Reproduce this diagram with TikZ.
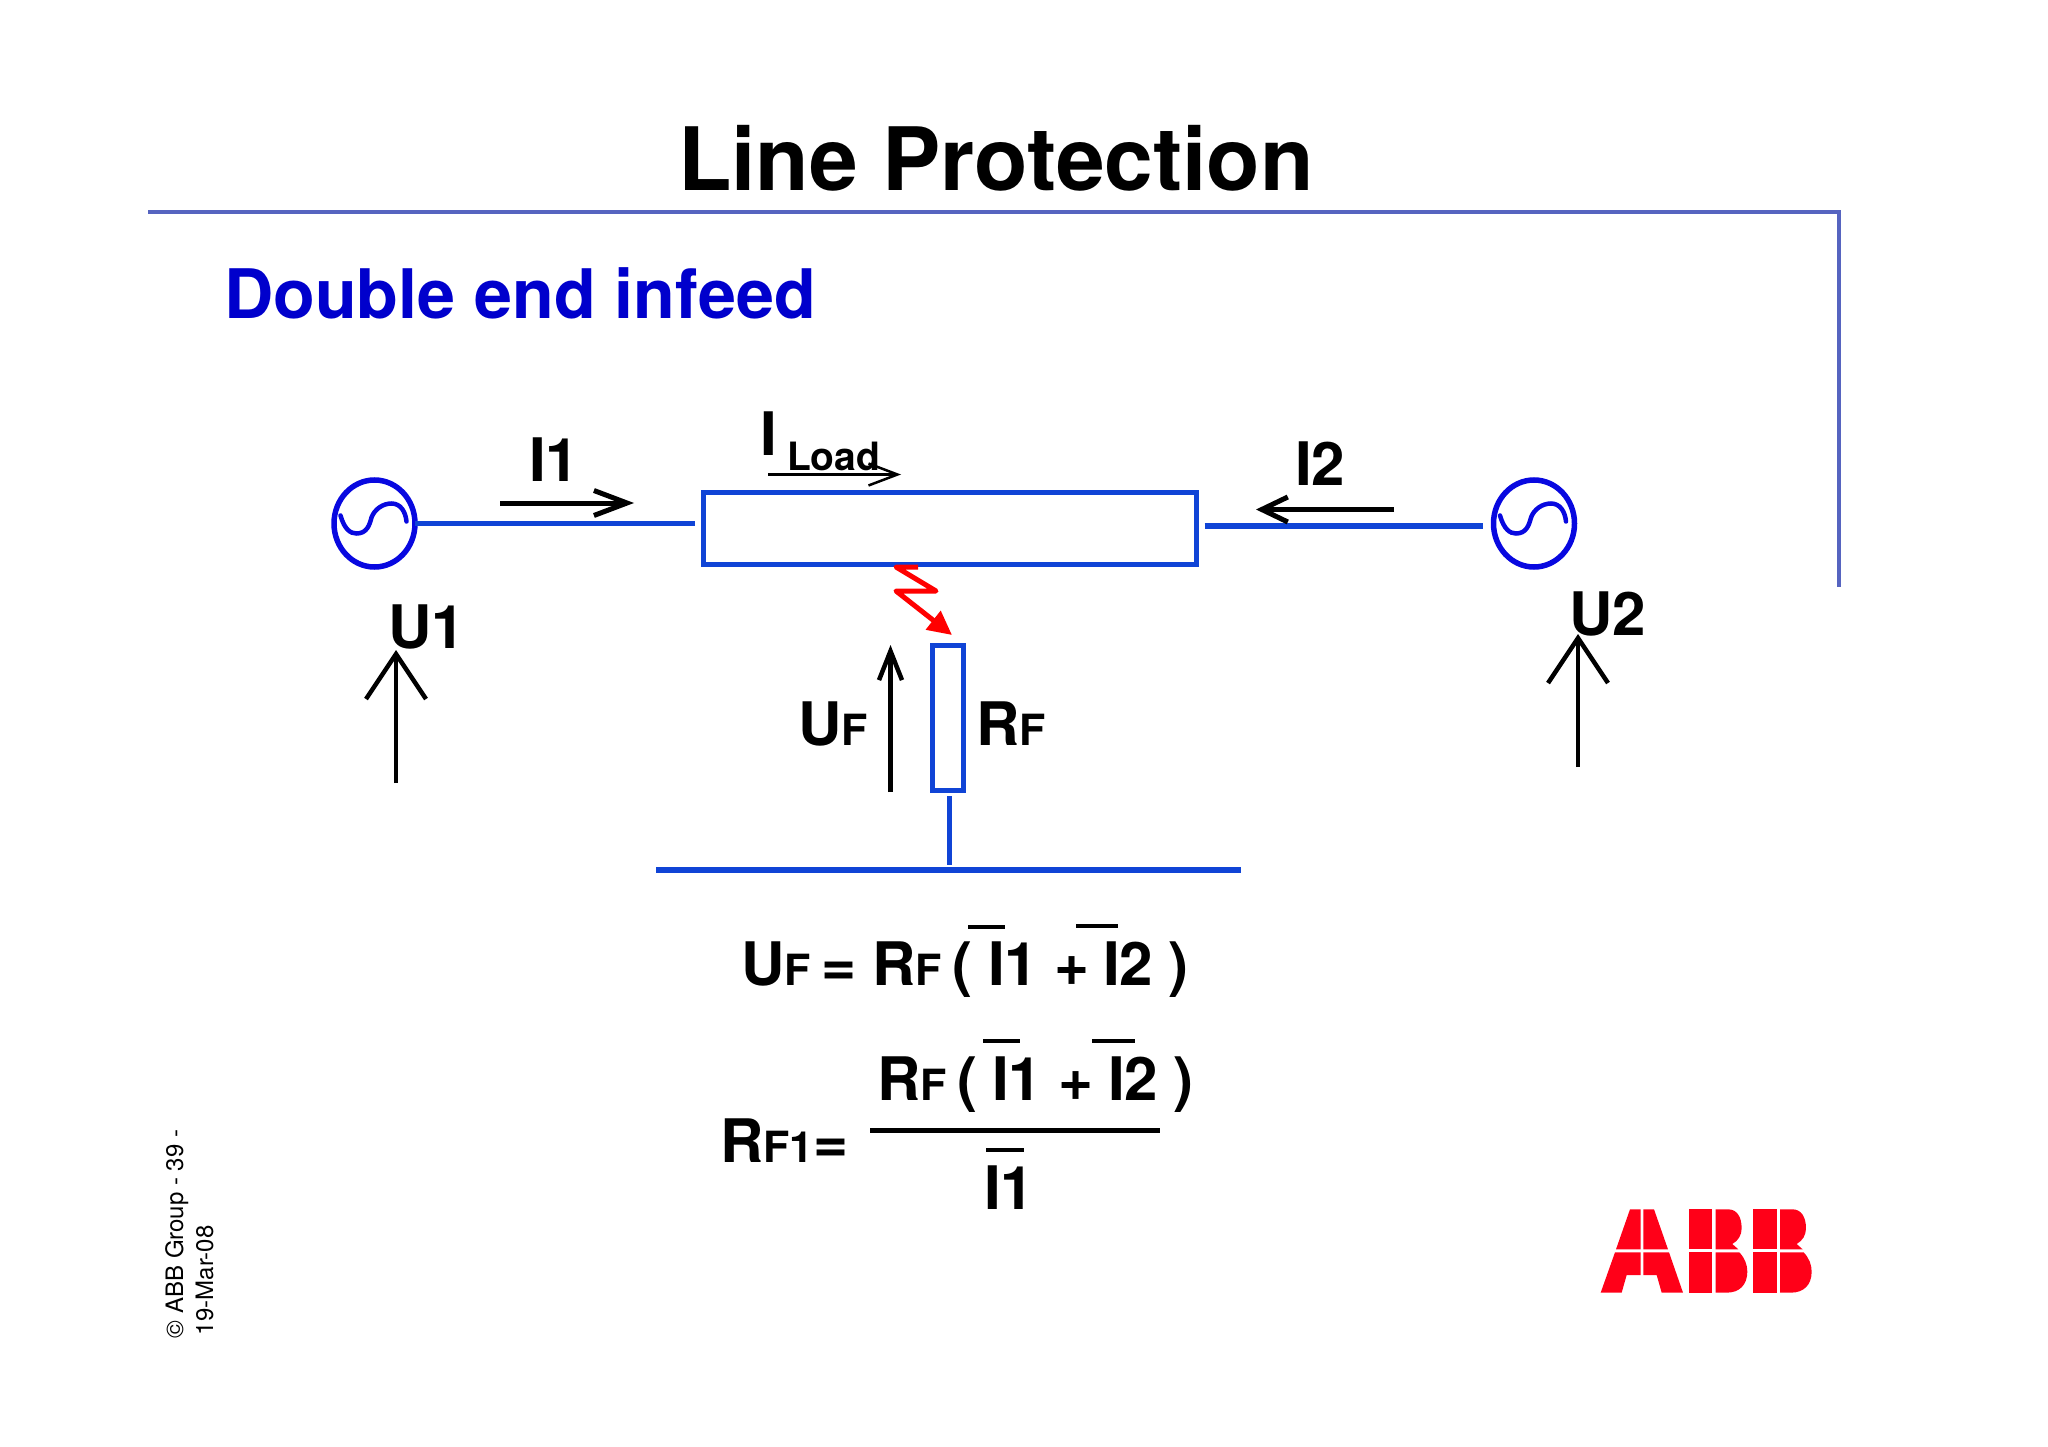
\documentclass[tikz,border=0pt]{standalone}
\usepackage{fontspec}
\setmainfont{TeX Gyre Heros}
\usetikzlibrary{arrows.meta,shapes.geometric}
\definecolor{wireblue}{HTML}{1044D6}
\definecolor{genblue}{HTML}{0808E0}
\definecolor{ruleblue}{HTML}{5664C0}
\definecolor{subblue}{HTML}{0000CC}
\definecolor{abbred}{HTML}{FF0018}
\newcommand{\bigtxt}{\fontsize{60}{70}\selectfont\bfseries}
\newcommand{\subtxt}{\fontsize{43}{50}\selectfont\bfseries}
\tikzset{
  every node/.style={inner sep=0pt, outer sep=0pt},
  lab/.style={anchor=base west, font=\bigtxt},
  wire/.style={draw=wireblue, line width=5.5pt},
  gen/.style={ellipse, draw=genblue, line width=5.5pt, minimum width=81pt, minimum height=87pt},
  sinewave/.style={draw=genblue, line width=4.5pt, line cap=round},
  amp/.style={line width=5pt, -{Straight Barb[length=33pt,width=25pt]}},
  volt/.style={line width=4.5pt, -{Straight Barb[length=45pt,width=60pt]}},
  bar/.style={line width=4.5pt},
  logo/.style={fill=abbred, draw=none}
}
\begin{document}
\begin{tikzpicture}[x=1pt, y=-1pt]
    \useasboundingbox (0, 0) rectangle (2048, 1447);
    %%header
    \node[anchor=base west, font=\fontsize{87.5}{90}\selectfont\bfseries] (title) at (678, 191) {Line Protection};
    \draw[draw=ruleblue, line width=3.5pt](148, 212) to (1839, 212) to (1839, 587);
    \node[anchor=base west, font=\fontsize{68.3}{70}\selectfont\bfseries, text=subblue] (subtitle) at (224, 319) {Double end infeed};

    %%line and sources
    \node[gen] (genL) at (374.5, 523.5) {};
    \node[gen] (genR) at (1534, 523.5) {};
    \node[wire, minimum width=493pt, minimum height=72pt] (line) at (950, 528.5) {};
    \coordinate (wireLend) at (695, 523.5);
    \coordinate (wireRend) at (1204.5, 526);
    \coordinate (wireRgen) at (1483, 526);
    \draw[wire](genL.east) to (wireLend);
    \draw[wire](wireRend) to (wireRgen);
    \foreach \src in {genL, genR} {
      \begin{scope}[shift={(\src)}]
        \draw[sinewave](-34, -8) .. controls (-30, 6) and (-24, 10) .. (-18, 10)
          .. controls (-8, 10) and (-5, 2) .. (-3, -6)
          .. controls (0, -14) and (8, -20) .. (17, -20)
          .. controls (26, -20) and (31, -12) .. (32, -2);
      \end{scope}
    }

    %%currents
    \coordinate (aOneA) at (500, 503);
    \coordinate (aOneB) at (634, 503);
    \draw[amp](aOneA) to (aOneB);
    \node[lab] (labIone) at (529, 481) {I1};
    \coordinate (aTwoA) at (1394, 509.5);
    \coordinate (aTwoB) at (1256, 509.5);
    \draw[amp, -{Straight Barb[length=26pt,width=25pt]}](aTwoA) to (aTwoB);
    \node[lab] (labItwo) at (1295, 485) {I2};
    \node[lab] (labIload) at (760, 455) {I};
    \node[anchor=base west, font=\fontsize{39}{40}\selectfont\bfseries] (labLoad) at (787, 470) {Load};
    \coordinate (aLoadA) at (768, 474.5);
    \coordinate (aLoadB) at (901, 474.5);
    \draw[line width=2.5pt, -{Straight Barb[length=29pt,width=22pt]}](aLoadA) to (aLoadB);

    %%voltages
    \coordinate (vOneA) at (396, 783);
    \coordinate (vOneB) at (396, 650);
    \draw[volt](vOneA) to (vOneB);
    \node[lab] (labUone) at (388, 648) {U1};
    \coordinate (vTwoA) at (1578, 767);
    \coordinate (vTwoB) at (1578, 634);
    \draw[volt](vTwoA) to (vTwoB);
    \node[lab] (labUtwo) at (1569, 635) {U2};

    %%fault
    \coordinate (fltA) at (918, 567);
    \coordinate (fltB) at (896, 567);
    \coordinate (fltC) at (936, 591);
    \coordinate (fltD) at (896, 591);
    \coordinate (fltE) at (952, 635);
    \draw[red, line width=5pt, line join=round, -{Triangle[length=24pt,width=23pt]}](fltA) to (fltB) to (fltC) to (fltD) to (fltE);
    \node[wire, minimum width=31pt, minimum height=145pt] (rfbox) at (948, 718) {};
    \coordinate (vFltA) at (890.5, 792);
    \coordinate (vFltB) at (890.5, 645);
    \draw[line width=4.5pt, -{Straight Barb[length=29pt,width=23pt]}](vFltA) to (vFltB);
    \node[lab] (labUf) at (798, 745) {U{\subtxt F}};
    \node[lab] (labRf) at (976, 745) {R{\subtxt F}};
    \coordinate (stubTop) at (949.5, 796);
    \coordinate (stubBot) at (949.5, 865);
    \coordinate (gndL) at (656, 870);
    \coordinate (gndR) at (1241, 870);
    \draw[wire](stubTop) to (stubBot);
    \draw[wire](gndL) to (gndR);

    %%first equation
    \node[lab] (eqUf) at (741, 985) {U{\subtxt F}};
    \node[lab] (eqEq) at (821, 985) {=};
    \node[lab] (eqRf) at (872, 985) {R{\subtxt F}};
    \node[lab] (eqOpen) at (952, 985) {(};
    \node[lab] (eqIone) at (988, 985) {I1};
    \node[lab] (eqPlus) at (1054, 985) {+};
    \node[lab] (eqItwo) at (1103, 985) {I2};
    \node[lab] (eqClose) at (1168, 985) {)};
    \draw[bar](968, 927) to (1005, 927);
    \draw[bar](1076, 926) to (1118, 926);

    %%second equation
    \node[lab] (frRf) at (877, 1100) {R{\subtxt F}};
    \node[lab] (frOpen) at (957, 1100) {(};
    \node[lab] (frIone) at (992, 1100) {I1};
    \node[lab] (frPlus) at (1058, 1100) {+};
    \node[lab] (frItwo) at (1108, 1100) {I2};
    \node[lab] (frClose) at (1173, 1100) {)};
    \draw[bar](983, 1041) to (1020, 1041);
    \draw[bar](1092, 1041) to (1135, 1041);
    \draw[line width=5pt](870, 1130) to (1160, 1130);
    \draw[bar](986, 1150) to (1024, 1150);
    \node[lab] (frIden) at (984, 1209) {I1};
    \node[lab] (frLhs) at (720, 1162) {R{\subtxt F1}};
    \node[lab] (frEq) at (813, 1162) {=};

    %%footer
    \node[anchor=base west, rotate=90, font=\fontsize{24}{26}\selectfont] (footA) at (183, 1338) {© ABB Group - 39 -};
    \node[anchor=base west, rotate=90, font=\fontsize{24}{26}\selectfont] (footB) at (213, 1335) {19-Mar-08};

    %%logo
    \begin{scope}[shift={(1580, 1180)}, x=.3333pt, y=-.3333pt]
      \path[logo](150, 88) -- (182, 88) -- (182, 208) -- (108, 208) -- cycle;
      \path[logo](190, 88) -- (222, 88) -- (264, 208) -- (190, 208) -- cycle;
      \path[logo](105, 217) -- (182, 217) -- (182, 285) -- (140, 285) -- (125, 338) -- (62, 338) -- cycle;
      \path[logo](190, 217) -- (267, 217) -- (309, 338) -- (245, 338) -- (230, 285) -- (190, 285) -- cycle;
      \foreach \dx in {0, 193} {
        \begin{scope}[xshift=\dx*.3333pt]
          \path[logo](327, 88) rectangle (397, 208);
          \path[logo](327, 217) rectangle (397, 338);
          \path[logo](407, 88) -- (445, 88) .. controls (470, 88) and (485, 110) .. (485, 145)
            .. controls (485, 165) and (475, 182) .. (457, 192) -- (475, 208) -- (407, 208) -- cycle;
          \path[logo](407, 217) -- (478, 217) .. controls (495, 235) and (502, 255) .. (502, 275)
            .. controls (502, 315) and (478, 338) .. (440, 338) -- (407, 338) -- cycle;
        \end{scope}
      }
    \end{scope}
\end{tikzpicture}
\end{document}
